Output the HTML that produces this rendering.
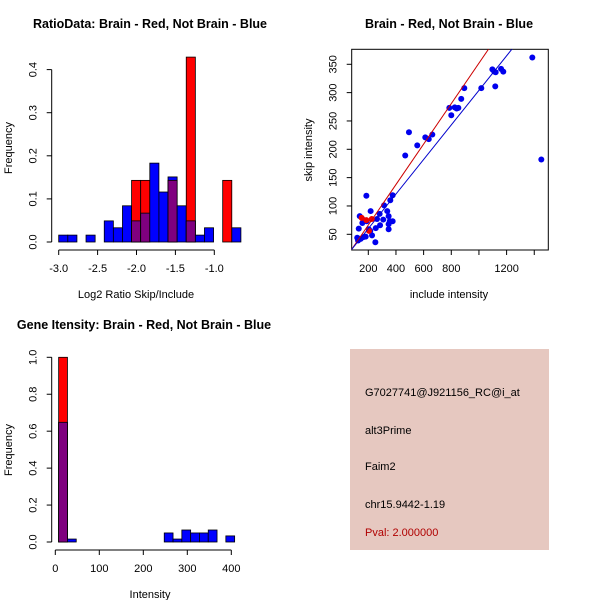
<!DOCTYPE html>
<html><head><meta charset="utf-8"><style>
body{margin:0;background:#fff}
svg{display:block;font-family:"Liberation Sans",Arial,sans-serif}
</style></head><body>
<svg id="c" width="600" height="600" viewBox="0 0 600 600" xmlns="http://www.w3.org/2000/svg">
<text x="150" y="28" font-size="12.5" font-weight="bold" text-anchor="middle">RatioData: Brain - Red, Not Brain - Blue</text>
<text x="449" y="28" font-size="12.5" font-weight="bold" text-anchor="middle">Brain - Red, Not Brain - Blue</text>
<text x="144" y="329" font-size="12.5" font-weight="bold" text-anchor="middle">Gene Itensity: Brain - Red, Not Brain - Blue</text>
<text x="136" y="298" font-size="11" text-anchor="middle">Log2 Ratio Skip/Include</text>
<text transform="translate(12,148) rotate(-90)" font-size="11" text-anchor="middle">Frequency</text>
<text x="449" y="298" font-size="11" text-anchor="middle">include intensity</text>
<text transform="translate(312,150) rotate(-90)" font-size="11" text-anchor="middle">skip intensity</text>
<text x="150" y="598" font-size="11" text-anchor="middle">Intensity</text>
<text transform="translate(12,450) rotate(-90)" font-size="11" text-anchor="middle">Frequency</text>
<g>
<rect x="350" y="349" width="199" height="201" fill="#e6c8c0"/>
<text x="365" y="396" font-size="11">G7027741@J921156_RC@i_at</text>
<text x="365" y="434" font-size="11">alt3Prime</text>
<text x="365" y="470" font-size="11">Faim2</text>
<text x="365" y="508" font-size="11">chr15.9442-1.19</text>
<text x="365" y="536" font-size="11" fill="#b00000">Pval: 2.000000</text>
</g>
</svg>
<script>
// ---- Ratio histogram data ----
const ratioBinStart = -3.0;
const ratioBinWidth = 0.1171;
const ratioBlue = [0.016,0.016,0,0.016,0,0.049,0.033,0.084,0.049,0.067,0.183,0.116,0.151,0.084,0.049,0.016,0.033,0,0,0.033];
const ratioRed  = [0,0,0,0,0,0,0,0,0.143,0.143,0,0,0.143,0,0.429,0,0,0,0.143,0];
const ratioXTicks = [-3.0,-2.5,-2.0,-1.5,-1.0];
const ratioXLabels = ["-3.0","-2.5","-2.0","-1.5","-1.0"];
const ratioYTicks = [0,0.1,0.2,0.3,0.4];
const ratioYLabels = ["0.0","0.1","0.2","0.3","0.4"];
// ---- Intensity histogram data ----
const intBinStart = 7.6;
const intBinWidth = 20;
const intBlue = [0.648,0.016,0,0,0,0,0,0,0,0,0,0,0.049,0.016,0.065,0.049,0.049,0.065,0,0.033];
const intRed  = [1.0,0,0,0,0,0,0,0,0,0,0,0,0,0,0,0,0,0,0,0];
const intXTicks = [0,100,200,300,400];
const intXLabels = ["0","100","200","300","400"];
const intYTicks = [0,0.2,0.4,0.6,0.8,1.0];
const intYLabels = ["0.0","0.2","0.4","0.6","0.8","1.0"];
// ---- Scatter data ----
const blueX = [1386,1451,1097,1111,1121,1160,1176,1118,1017,894,872,851,825,839,786,800,494,467,554,612,637,663,186,376,359,314,217,282,337,347,376,355,308,263,138,169,188,157,285,254,347,131,203,347,214,227,181,164,120,126,251,145];
const blueY = [362,182,341,337,336,342,337,311,308,308,289,273,274,272,273,260,230,189,207,221,218,226,118,119,110,101,91,86,91,82,73,73,76,77,82,75,73,70,66,61,59,60,59,68,56,48,46,45,44,39,36,42];
const redX = [152,186,225,205];
const redY = [79,75,77,56];
const redLine = [-5,0.357];
const blueLine = [-1,0.305];
const scXTicks = [200,400,600,800,1000,1200,1400];
const scXLabels = ["200","400","600","800","","1200",""];
const scYTicks = [50,100,150,200,250,300,350];
const scYLabels = ["50","100","150","200","250","300","350"];

const svg = document.getElementById('c');
const NS = 'http://www.w3.org/2000/svg';
function mk(tag, attrs){const e=document.createElementNS(NS,tag);for(const k in attrs)e.setAttribute(k,attrs[k]);svg.appendChild(e);return e;}

function xAxis(sx, ticks, labels, y, line, name){
  if(line){
    const l=mk('line',{x1:sx(ticks[0]),x2:sx(ticks[ticks.length-1]),y1:y,y2:y,stroke:'#000'});
    
    
  }
  ticks.forEach((t,i)=>{
    const tk=mk('line',{x1:sx(t),x2:sx(t),y1:y,y2:y+5,stroke:'#000'});
    
    
    if(labels[i]){
      const tx=mk('text',{x:sx(t),y:y+22,'font-size':11,'text-anchor':'middle'});
      tx.textContent=labels[i];
      
      
    }
  });
}
function yAxis(sy, ticks, labels, x, line, name){
  if(line){
    const l=mk('line',{x1:x,x2:x,y1:sy(ticks[0]),y2:sy(ticks[ticks.length-1]),stroke:'#000'});
    
    
  }
  ticks.forEach((t,i)=>{
    const tk=mk('line',{x1:x-5,x2:x,y1:sy(t),y2:sy(t),stroke:'#000'});
    
    
    const tx=mk('text',{x:x-15,y:sy(t),'font-size':11,'text-anchor':'middle',transform:`rotate(-90 ${x-15} ${sy(t)})`});
    tx.textContent=labels[i];
    
    
  });
}
function hist(sx, sy, start, w, blue, red, name){
  const base=sy(0);
  for(let i=0;i<blue.length;i++){
    const x0=sx(start+i*w), x1=sx(start+(i+1)*w);
    const b=blue[i], r=red[i], m=Math.min(b,r);
    if(b>0){const e=mk('rect',{x:x0,y:sy(b),width:x1-x0,height:base-sy(b),fill:'#0000ff',stroke:'#000','stroke-width':0.8});
      
      }
    if(r>0){const e=mk('rect',{x:x0,y:sy(r),width:x1-x0,height:base-sy(r),fill:'#ff0000',stroke:'#000','stroke-width':0.8});
      
      }
    if(m>0){const e=mk('rect',{x:x0,y:sy(m),width:x1-x0,height:base-sy(m),fill:'#7f007f',stroke:'#000','stroke-width':0.8});
      
      }
  }
}
// Ratio histogram
{
  const sx=v=>58.7+(v+3)*77.8, sy=v=>242-v*431;
  hist(sx,sy,ratioBinStart,ratioBinWidth,ratioBlue,ratioRed,'ratio');
  xAxis(sx,ratioXTicks,ratioXLabels,250,true,'ratio');
  yAxis(sy,ratioYTicks,ratioYLabels,51.7,true,'ratio');
}
// Intensity histogram
{
  const sx=v=>55.3+v*0.44, sy=v=>542-v*184.7;
  hist(sx,sy,intBinStart,intBinWidth,intBlue,intRed,'intensity');
  xAxis(sx,intXTicks,intXLabels,550,true,'intensity');
  yAxis(sy,intYTicks,intYLabels,51.7,true,'intensity');
}
// Scatter
{
  const sx=v=>368.3+(v-200)*0.1383, sy=v=>234.3-(v-50)*0.5667;
  const L=351.7,R=548.3,T=49.3,B=250;
  const clip=mk('clipPath',{id:'scclip'});
  const cr=document.createElementNS(NS,'rect');cr.setAttribute('x',L);cr.setAttribute('y',T);cr.setAttribute('width',R-L);cr.setAttribute('height',B-T);clip.appendChild(cr);
  const box=mk('rect',{x:L,y:T,width:R-L,height:B-T,fill:'none',stroke:'#000'});
  
  
  blueX.forEach((x,i)=>{
    const c=mk('circle',{cx:sx(x),cy:sy(blueY[i]),r:3,fill:'#0000ee'});
    
    
  });
  redX.forEach((x,i)=>{
    const c=mk('circle',{cx:sx(x),cy:sy(redY[i]),r:3,fill:'#ee0000'});
    
    
  });
  [[redLine,'#cc0000','red-fit-line'],[blueLine,'#0000cc','blue-fit-line']].forEach(([ab,col,nm])=>{
    const xa=-200,xb=3000;
    const ln=mk('line',{x1:sx(xa),y1:sy(ab[0]+ab[1]*xa),x2:sx(xb),y2:sy(ab[0]+ab[1]*xb),stroke:col,'stroke-width':1,'clip-path':'url(#scclip)'});
    
    
  });
  xAxis(sx,scXTicks,scXLabels,B,false,'scatter');
  yAxis(sy,scYTicks,scYLabels,L,false,'scatter');
}
</script>
</body></html>
